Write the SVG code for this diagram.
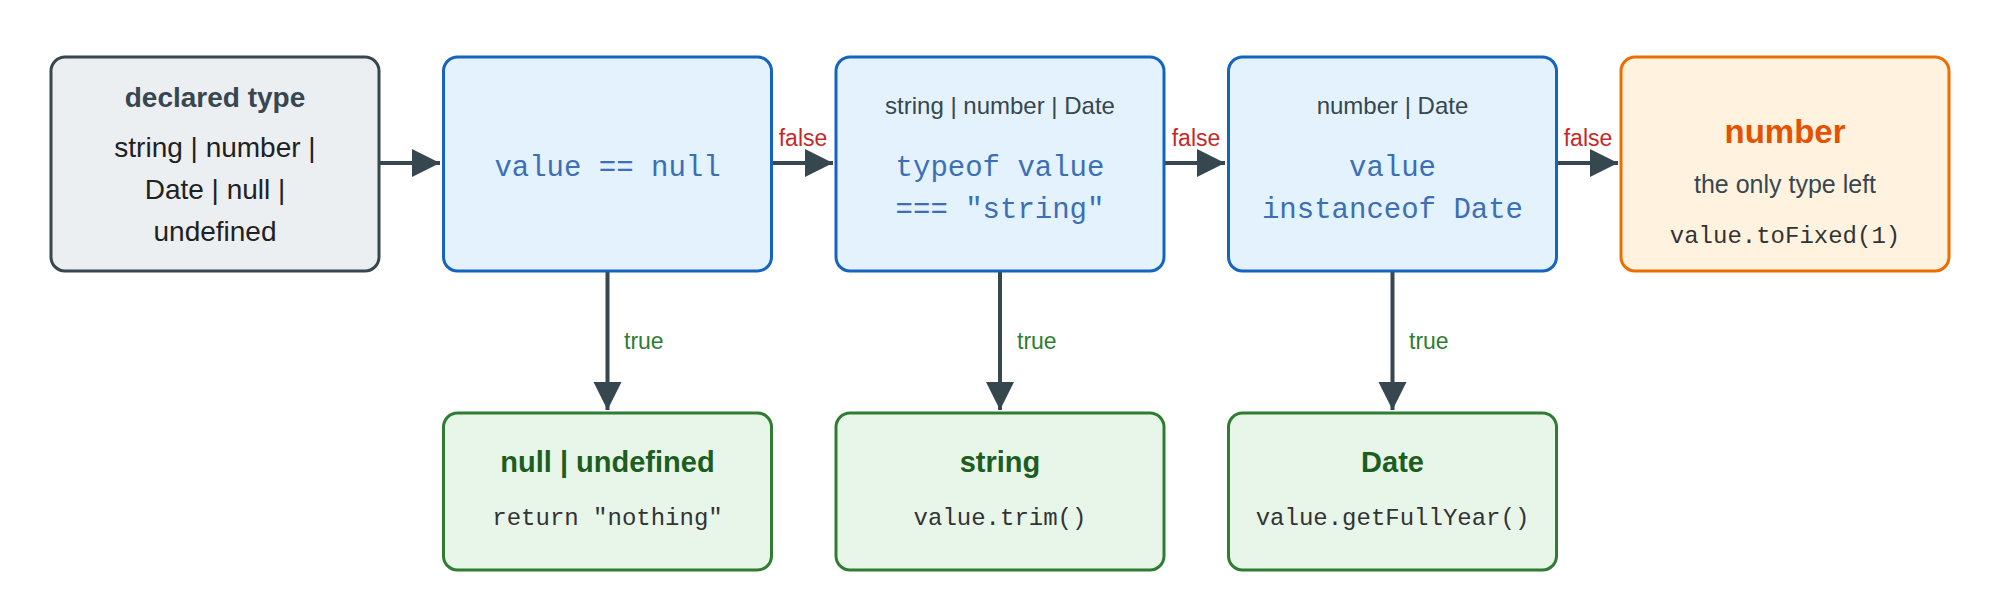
<svg xmlns="http://www.w3.org/2000/svg" width="2000" height="614" viewBox="0 0 2000 614">
<style>
.box{stroke-width:3}
.gray{fill:#eceff1;stroke:#37474f}
.blue{fill:#e3f2fd;stroke:#1565c0}
.green{fill:#e8f5e9;stroke:#2e7d32}
.orange{fill:#fff3e0;stroke:#ef6c00}
text{font-family:"Liberation Sans",Arial,sans-serif;text-anchor:middle;dominant-baseline:central}
.t{font-size:28px;font-weight:bold;fill:#37474f}
.b{font-size:28px;fill:#212121}
.h{font-size:24px;fill:#37474f}
.c{font-family:"Liberation Mono","Courier New",monospace;font-size:29px;fill:#3b6fb6}
.m{font-family:"Liberation Mono","Courier New",monospace;font-size:24px;fill:#333}
.gt{font-size:29px;font-weight:bold;fill:#1b5e20}
.ot{font-size:33px;font-weight:bold;fill:#e65100}
.f{font-size:23px;fill:#c62828}
.tr{font-size:23px;fill:#2e7d32;text-anchor:start}
.e{stroke:#37474f;stroke-width:4;fill:none;marker-end:url(#ah)}
</style>
<defs>
<marker id="ah" markerUnits="userSpaceOnUse" markerWidth="30" markerHeight="30" refX="28" refY="14" orient="auto"><path d="M0,0 L28,14 L0,28 Z" fill="#37474f"/></marker>
</defs>
<rect width="2000" height="614" fill="#fff"/>
<g id="connectors">
<path class="e" d="M379,163 H440"/>
<path class="e" d="M771,163 H833"/>
<path class="e" d="M1164,163 H1225"/>
<path class="e" d="M1556,163 H1618"/>
<path class="e" d="M607.5,271 V410"/>
<path class="e" d="M1000,271 V410"/>
<path class="e" d="M1392.5,271 V410"/>
<text class="f" x="803" y="138">false</text>
<text class="f" x="1196" y="138">false</text>
<text class="f" x="1588" y="138">false</text>
<text class="tr" x="624" y="341">true</text>
<text class="tr" x="1017" y="341">true</text>
<text class="tr" x="1409" y="341">true</text>
</g>
<g id="declared">
<rect class="box gray" x="51" y="57" width="328" height="214" rx="14"/>
<text class="t" x="215" y="97">declared type</text>
<text class="b" x="215" y="147">string | number |</text>
<text class="b" x="215" y="189">Date | null |</text>
<text class="b" x="215" y="231">undefined</text>
</g>
<g id="check-null">
<rect class="box blue" x="443.5" y="57" width="328" height="214" rx="14"/>
<text class="c" x="607.5" y="168">value == null</text>
</g>
<g id="check-string">
<rect class="box blue" x="836" y="57" width="328" height="214" rx="14"/>
<text class="h" x="1000" y="105">string | number | Date</text>
<text class="c" x="1000" y="168">typeof value</text>
<text class="c" x="1000" y="210">=== "string"</text>
</g>
<g id="check-date">
<rect class="box blue" x="1228.5" y="57" width="328" height="214" rx="14"/>
<text class="h" x="1392.5" y="105">number | Date</text>
<text class="c" x="1392.5" y="168">value</text>
<text class="c" x="1392.5" y="210">instanceof Date</text>
</g>
<g id="number">
<rect class="box orange" x="1621" y="57" width="328" height="214" rx="14"/>
<text class="ot" x="1785" y="131">number</text>
<text class="h" x="1785" y="184" style="font-size:25px">the only type left</text>
<text class="m" x="1785" y="236">value.toFixed(1)</text>
</g>
<g id="null-undefined">
<rect class="box green" x="443.5" y="413" width="328" height="157" rx="14"/>
<text class="gt" x="607.5" y="462">null | undefined</text>
<text class="m" x="607.5" y="518">return "nothing"</text>
</g>
<g id="string">
<rect class="box green" x="836" y="413" width="328" height="157" rx="14"/>
<text class="gt" x="1000" y="462">string</text>
<text class="m" x="1000" y="518">value.trim()</text>
</g>
<g id="date">
<rect class="box green" x="1228.5" y="413" width="328" height="157" rx="14"/>
<text class="gt" x="1392.5" y="462">Date</text>
<text class="m" x="1392.5" y="518">value.getFullYear()</text>
</g>
</svg>
